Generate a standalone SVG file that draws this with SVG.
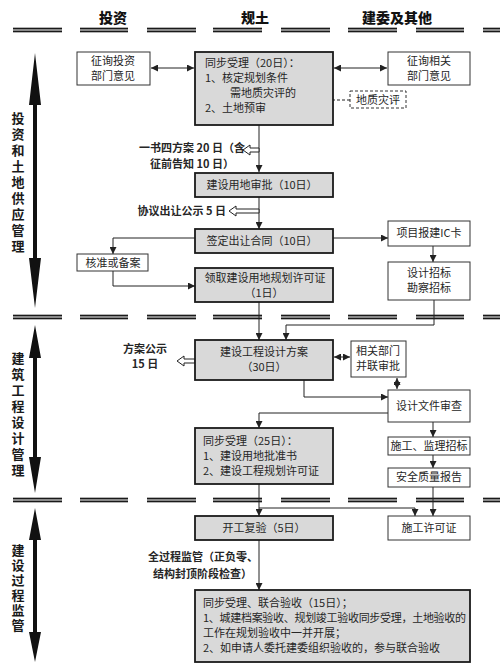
<svg xmlns="http://www.w3.org/2000/svg" xmlns:xlink="http://www.w3.org/1999/xlink" width="500" height="670" viewBox="0 0 500 670">
<style>
text{font-family:"Noto Sans CJK SC","Noto Sans",sans-serif;fill:#262626;font-size:11px}
.c{text-anchor:middle}
.b{font-weight:bold}
.hd{font-size:14px;font-weight:900;text-anchor:middle;fill:#111}
.side{font-size:13px;font-weight:bold;fill:#1a1a1a;writing-mode:vertical-rl;text-anchor:start}
.g{fill:#d9d9d9;stroke:#1a1a1a;stroke-width:1.8}
.w{fill:#fff;stroke:#333;stroke-width:1}
.dash{fill:#fff;stroke:#333;stroke-width:1;stroke-dasharray:3 2}
.ln{fill:none;stroke:#222;stroke-width:1}
.hol{fill:#fff;stroke:#222;stroke-width:1}
.big{fill:#111}
</style>
<defs>
<marker id="ah" viewBox="0 0 8 8" refX="8" refY="4" markerWidth="7" markerHeight="7" markerUnits="userSpaceOnUse" orient="auto-start-reverse">
<path d="M0,0 L8,4 L0,8 Z" fill="#222"/>
</marker>
<g id="sep">
<rect x="13" y="-2.2" width="49" height="4.4" fill="#8a8a8a"/><rect x="80" y="-2.2" width="48" height="4.4" fill="#8a8a8a"/><rect x="147" y="-2.2" width="49" height="4.4" fill="#8a8a8a"/><rect x="213" y="-2.2" width="49" height="4.4" fill="#8a8a8a"/><rect x="281" y="-2.2" width="49" height="4.4" fill="#8a8a8a"/><rect x="348" y="-2.2" width="49" height="4.4" fill="#8a8a8a"/><rect x="416" y="-2.2" width="48" height="4.4" fill="#8a8a8a"/><rect x="483" y="-2.2" width="17" height="4.4" fill="#8a8a8a"/>
<path d="M13,-1.6H62M80,-1.6H128M147,-1.6H196M213,-1.6H262M281,-1.6H330M348,-1.6H397M416,-1.6H464M483,-1.6H500M13,1.6H62M80,1.6H128M147,1.6H196M213,1.6H262M281,1.6H330M348,1.6H397M416,1.6H464M483,1.6H500" stroke="#1a1a1a" stroke-width="1.2"/>
</g>
</defs>

<g id="headers">
<text class="hd" x="113" y="23">投资</text>
<text class="hd" x="255" y="23">规土</text>
<text class="hd" x="397" y="23">建委及其他</text>
</g>

<g id="separators">
<use xlink:href="#sep" href="#sep" x="0" y="30"/>
<use xlink:href="#sep" href="#sep" x="0" y="317"/>
<use xlink:href="#sep" href="#sep" x="0" y="500"/>
</g>

<g id="phase-arrows">
<path class="big" d="M35,53 L41,105 L37,105 L37,258 L41,258 L35,308 L29,258 L33,258 L33,105 L29,105 Z"/>
<path class="big" d="M35,325 L41,358 L37,358 L37,457 L41,457 L35,493 L29,457 L33,457 L33,358 L29,358 Z"/>
<path class="big" d="M35,508 L41,540 L37,540 L37,632 L41,632 L35,662 L29,632 L33,632 L33,540 L29,540 Z"/>
</g>

<g id="phase-labels">
<text class="side" x="18" y="112" letter-spacing="3">投资和土地供应管理</text>
<text class="side" x="18" y="352" letter-spacing="3">建筑工程设计管理</text>
<text class="side" x="18" y="544" letter-spacing="2">建设过程监管</text>
</g>

<g id="connectors">
<path class="ln" d="M151,68 H194" marker-start="url(#ah)" marker-end="url(#ah)"/>
<path class="ln" d="M334,68 H387" marker-start="url(#ah)" marker-end="url(#ah)"/>
<path class="ln" d="M350,100 H295" stroke-dasharray="3 2" marker-end="url(#ah)"/>
<path class="ln" d="M259,125 V172" marker-end="url(#ah)"/>
<path class="ln" d="M259,197 V229" marker-end="url(#ah)"/>
<path class="ln" d="M195,238 H113 V254" marker-end="url(#ah)"/>
<path class="ln" d="M113,271 V286 H195" marker-end="url(#ah)"/>
<path class="ln" d="M333,238 H388" marker-end="url(#ah)"/>
<path class="ln" d="M433,246 V262" marker-end="url(#ah)"/>
<path class="ln" d="M259,302 V340" marker-end="url(#ah)"/>
<path class="ln" d="M434,300 V325 H286 V340" marker-end="url(#ah)"/>
<path class="ln" d="M334,357 H350" marker-start="url(#ah)" marker-end="url(#ah)"/>
<path class="ln" d="M397,378 V389" marker-start="url(#ah)" marker-end="url(#ah)"/>
<path class="ln" d="M304,380 V397 H388" marker-end="url(#ah)"/>
<path class="ln" d="M388,413 H259 V428" marker-end="url(#ah)"/>
<path class="ln" d="M433,422 V437" marker-end="url(#ah)"/>
<path class="ln" d="M433,455 V468" marker-end="url(#ah)"/>
<path class="ln" d="M433,487 V516" marker-end="url(#ah)"/>
<path class="ln" d="M259,484 V516" marker-end="url(#ah)"/>
<path class="ln" d="M259,508 H415 V516" marker-end="url(#ah)"/>
<path class="ln" d="M259,540 V590" marker-end="url(#ah)"/>
<path class="hol" d="M243,150 L250,145 L250,148 L259,148 L259,152 L250,152 L250,155 Z"/>
<path class="hol" d="M229,211 L236,206 L236,209 L259,209 L259,213 L236,213 L236,216 Z"/>
<path class="hol" d="M177,361 L184,356 L184,359 L195,359 L195,363 L184,363 L184,366 Z"/>
</g>

<g id="n-zhengxun-touzi">
<rect class="w" x="77" y="52" width="73" height="33"/>
<text class="c" x="113" y="65">征询投资<tspan x="113" dy="15">部门意见</tspan></text>
</g>
<g id="n-tongbu-20">
<rect class="g" x="195" y="52" width="138" height="73"/>
<text x="205" y="67">同步受理（20日）：<tspan x="205" dy="15">1、核定规划条件</tspan><tspan x="230" dy="15">需地质灾评的</tspan><tspan x="205" dy="15">2、土地预审</tspan></text>
</g>
<g id="n-zhengxun-xiangguan">
<rect class="w" x="388" y="52" width="82" height="33"/>
<text class="c" x="429" y="65">征询相关<tspan x="429" dy="15">部门意见</tspan></text>
</g>
<g id="n-dizhi">
<rect class="dash" x="350" y="91" width="56" height="17"/>
<text class="c" x="378" y="104">地质灾评</text>
</g>
<g id="note-yishu">
<text class="b" x="139" y="152" font-size="10.5">一书四方案 20 日（含<tspan x="150" dy="16">征前告知 10 日）</tspan></text>
</g>
<g id="n-jianshe-yongdi">
<rect class="g" x="195" y="173" width="138" height="24"/>
<text class="c" x="262" y="189">建设用地审批（10日）</text>
</g>
<g id="note-xieyi">
<text class="b" x="226" y="215" text-anchor="end" font-size="10.5">协议出让公示 5 日</text>
</g>
<g id="n-qianding">
<rect class="g" x="195" y="229" width="138" height="24"/>
<text class="c" x="262" y="245">签定出让合同（10日）</text>
</g>
<g id="n-hezhun">
<rect class="w" x="77" y="254" width="71" height="17"/>
<text class="c" x="113" y="267">核准或备案</text>
</g>
<g id="n-lingqu">
<rect class="g" x="195" y="268" width="138" height="34"/>
<text class="c" x="265" y="282">领取建设用地规划许可证<tspan x="264" dy="15">（1日）</tspan></text>
</g>
<g id="n-ic">
<rect class="w" x="388" y="221" width="82" height="25"/>
<text class="c" x="429" y="237">项目报建IC卡</text>
</g>
<g id="n-sheji-zhaobiao">
<rect class="w" x="388" y="262" width="82" height="38"/>
<text class="c" x="429" y="277">设计招标<tspan x="429" dy="15">勘察招标</tspan></text>
</g>
<g id="note-fangan">
<text class="c b" x="145" y="353" font-size="10.5">方案公示<tspan x="145" dy="15">15 日</tspan></text>
</g>
<g id="n-fangan">
<rect class="g" x="195" y="340" width="138" height="40"/>
<text class="c" x="264" y="356">建设工程设计方案<tspan x="264" dy="15">（30日）</tspan></text>
</g>
<g id="n-binglian">
<rect class="w" x="351" y="341" width="55" height="36"/>
<text class="c" x="378" y="355">相关部门<tspan x="378" dy="15">并联审批</tspan></text>
</g>
<g id="n-shencha">
<rect class="w" x="388" y="390" width="82" height="32"/>
<text class="c" x="429" y="410">设计文件审查</text>
</g>
<g id="n-tongbu-25">
<rect class="g" x="195" y="428" width="138" height="56"/>
<text x="203" y="445">同步受理（25日）：<tspan x="203" dy="15">1、建设用地批准书</tspan><tspan x="203" dy="15">2、建设工程规划许可证</tspan></text>
</g>
<g id="n-shigong-zhaobiao">
<rect class="w" x="388" y="437" width="82" height="18"/>
<text class="c" x="429" y="450">施工、监理招标</text>
</g>
<g id="n-anquan">
<rect class="w" x="388" y="468" width="82" height="19"/>
<text class="c" x="429" y="481">安全质量报告</text>
</g>
<g id="n-xukezheng">
<rect class="w" x="388" y="516" width="82" height="24"/>
<text class="c" x="429" y="532">施工许可证</text>
</g>
<g id="n-kaigong">
<rect class="g" x="195" y="516" width="138" height="24"/>
<text class="c" x="264" y="532">开工复验（5日）</text>
</g>
<g id="note-jianguan">
<text class="b" x="148" y="561" font-size="10.5">全过程监管（正负零、<tspan x="153" dy="17">结构封顶阶段检查）</tspan></text>
</g>
<g id="n-yanshou">
<rect class="g" x="195" y="590" width="275" height="72"/>
<text x="203" y="607" font-size="10.5">同步受理、联合验收（15日）；<tspan x="203" dy="15" textLength="263" lengthAdjust="spacing">1、城建档案验收、规划竣工验收同步受理，土地验收的</tspan><tspan x="203" dy="15">工作在规划验收中一并开展；</tspan><tspan x="203" dy="15">2、如申请人委托建委组织验收的，参与联合验收</tspan></text>
</g>
</svg>
